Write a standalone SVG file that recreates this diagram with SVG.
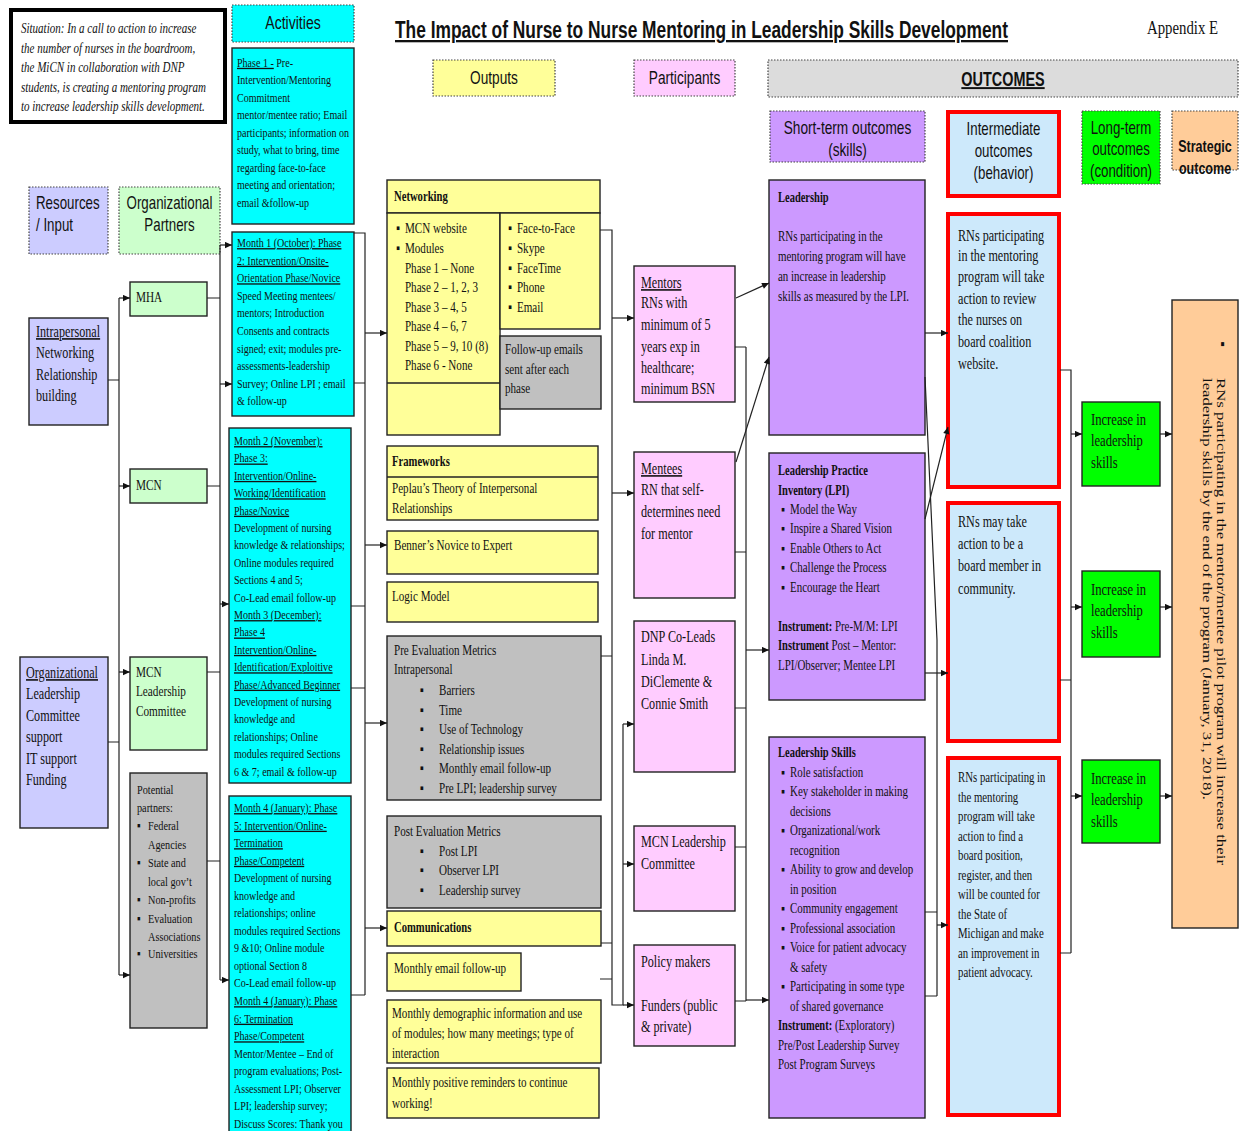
<svg xmlns="http://www.w3.org/2000/svg" width="1243" height="1131" viewBox="0 0 1243 1131">
<defs>
<marker id="ah" viewBox="0 0 10 10" refX="10" refY="5" markerWidth="8" markerHeight="7" markerUnits="userSpaceOnUse" orient="auto"><path d="M0,0.5 L10,5 L0,9.5 z" fill="#111"/></marker>
<style>
.s{font-family:"Liberation Serif","Times New Roman",serif;fill:#111}
.h{font-family:"Liberation Sans",Arial,sans-serif;fill:#111}
.u{text-decoration:underline}
.b{font-weight:bold}
.i{font-style:italic}
.bx{stroke:#222;stroke-width:1.4}
.dt{stroke:#444;stroke-width:1.2;stroke-dasharray:1.5 1.5}
.red{stroke:#ff0000;stroke-width:4}
.ln{fill:none;stroke:#222;stroke-width:1.2}
.ar{marker-end:url(#ah)}
.cy{fill:#00ffff}.ye{fill:#ffff99}.gr{fill:#c0c0c0}.pk{fill:#ffccff}.pu{fill:#cc99ff}.lb{fill:#cde9fb}.gn{fill:#00ff00}.pe{fill:#ffcc99}.lv{fill:#ccccff}.lg{fill:#ccffcc}
</style>
</defs>
<rect width="1243" height="1131" fill="#ffffff"/>

<g id="title">
<text class="h u b" x="395" y="38" font-size="23" textLength="613" lengthAdjust="spacingAndGlyphs">The Impact of Nurse to Nurse Mentoring in Leadership Skills Development</text>
<text class="s" font-size="19.5" transform="matrix(.76 0 0 1 1147 0)" x="0" y="34">Appendix E</text>
</g>

<g id="situation">
<rect x="11" y="10" width="214" height="112" fill="#fff" stroke="#000" stroke-width="4"/>
<text class="s i" font-size="14.5" transform="matrix(.76 0 0 1 21 0)">
<tspan x="0" y="33.5">Situation: In a call to action to increase</tspan>
<tspan x="0" y="53">the number of nurses in the boardroom,</tspan>
<tspan x="0" y="72.5">the MiCN in collaboration with DNP</tspan>
<tspan x="0" y="92">students, is creating a mentoring program</tspan>
<tspan x="0" y="111.5">to increase leadership skills development.</tspan>
</text>
</g>

<!-- headers -->
<g id="hdr-activities"><rect x="232" y="5" width="122" height="37" class="cy dt"/><text class="h" font-size="19" text-anchor="middle" transform="matrix(.74 0 0 1 293 0)" x="0" y="29">Activities</text></g>
<g id="hdr-resources"><rect x="29" y="187" width="79" height="67" class="lv dt"/><text class="h" font-size="18" transform="matrix(.74 0 0 1 36 0)"><tspan x="0" y="209">Resources</tspan><tspan x="0" y="231">/ Input</tspan></text></g>
<g id="hdr-partners"><rect x="119" y="187" width="101" height="67" class="lg dt"/><text class="h" font-size="18" text-anchor="middle" transform="matrix(.74 0 0 1 169.5 0)"><tspan x="0" y="209">Organizational</tspan><tspan x="0" y="231">Partners</tspan></text></g>
<g id="hdr-outputs"><rect x="433" y="60" width="122" height="36" class="ye dt"/><text class="h" font-size="18.5" text-anchor="middle" transform="matrix(.74 0 0 1 494 0)" x="0" y="84">Outputs</text></g>
<g id="hdr-participants"><rect x="634" y="60" width="101" height="36" class="pk dt"/><text class="h" font-size="18.5" text-anchor="middle" transform="matrix(.74 0 0 1 684.5 0)" x="0" y="84">Participants</text></g>
<g id="hdr-outcomes"><rect x="768" y="60" width="470" height="37" fill="#dcdcdc" class="dt"/><text class="h u b" font-size="19.5" text-anchor="middle" transform="matrix(.74 0 0 1 1003 0)" x="0" y="86">OUTCOMES</text></g>
<g id="hdr-short"><rect x="770" y="111" width="155" height="51" class="pu dt"/><text class="h" font-size="18" text-anchor="middle" transform="matrix(.76 0 0 1 847.5 0)"><tspan x="0" y="134">Short-term outcomes</tspan><tspan x="0" y="156">(skills)</tspan></text></g>
<g id="hdr-intermediate"><rect x="948" y="112" width="111" height="84" class="lb red"/><text class="h" font-size="17.5" text-anchor="middle" transform="matrix(.76 0 0 1 1003.5 0)"><tspan x="0" y="135">Intermediate</tspan><tspan x="0" y="157">outcomes</tspan><tspan x="0" y="179">(behavior)</tspan></text></g>
<g id="hdr-longterm"><rect x="1082" y="111" width="78" height="73" class="gn dt"/><text class="h" font-size="17.5" text-anchor="middle" transform="matrix(.76 0 0 1 1121 0)"><tspan x="0" y="134">Long-term</tspan><tspan x="0" y="155">outcomes</tspan><tspan x="0" y="177">(condition)</tspan></text></g>
<g id="hdr-strategic"><rect x="1172" y="111" width="66" height="59" class="pe dt"/><text class="h b" font-size="16.5" text-anchor="middle" transform="matrix(.76 0 0 1 1205 0)"><tspan x="0" y="152">Strategic</tspan><tspan x="0" y="174">outcome</tspan></text></g>

<!-- resources -->
<g id="res-intrapersonal"><rect x="29" y="318" width="79" height="107" class="lv bx"/>
<text class="s" font-size="16" transform="matrix(.76 0 0 1 36 0)"><tspan x="0" y="337" class="u">Intrapersonal</tspan><tspan x="0" y="358">Networking</tspan><tspan x="0" y="380">Relationship</tspan><tspan x="0" y="401">building</tspan></text></g>
<g id="res-organizational"><rect x="20" y="657" width="88" height="171" class="lv bx"/>
<text class="s" font-size="16" transform="matrix(.76 0 0 1 26 0)"><tspan x="0" y="678" class="u">Organizational</tspan><tspan x="0" y="699.5">Leadership</tspan><tspan x="0" y="721">Committee</tspan><tspan x="0" y="742.5">support</tspan><tspan x="0" y="764">IT support</tspan><tspan x="0" y="785.5">Funding</tspan></text></g>

<!-- partners -->
<g id="par-mha"><rect x="130" y="282" width="77" height="34" class="lg bx"/><text class="s" font-size="14.8" transform="matrix(.76 0 0 1 136 0)" x="0" y="302">MHA</text></g>
<g id="par-mcn"><rect x="130" y="469" width="77" height="34" class="lg bx"/><text class="s" font-size="14.8" transform="matrix(.76 0 0 1 136 0)" x="0" y="490">MCN</text></g>
<g id="par-mcnlc"><rect x="130" y="657" width="77" height="93" class="lg bx"/><text class="s" font-size="14.8" transform="matrix(.76 0 0 1 136 0)"><tspan x="0" y="677">MCN</tspan><tspan x="0" y="696.5">Leadership</tspan><tspan x="0" y="716">Committee</tspan></text></g>
<g id="par-potential"><rect x="130" y="773" width="77" height="255" class="gr bx"/>
<text class="s" font-size="13.5" transform="matrix(.76 0 0 1 137 0)">
<tspan x="0" y="794">Potential</tspan>
<tspan x="0" y="812">partners:</tspan>
<tspan x="0" y="830">▪</tspan><tspan x="14.5" y="830">Federal</tspan>
<tspan x="14.5" y="849">Agencies</tspan>
<tspan x="0" y="867">▪</tspan><tspan x="14.5" y="867">State and</tspan>
<tspan x="14.5" y="886">local gov’t</tspan>
<tspan x="0" y="904">▪</tspan><tspan x="14.5" y="904">Non-profits</tspan>
<tspan x="0" y="923">▪</tspan><tspan x="14.5" y="923">Evaluation</tspan>
<tspan x="14.5" y="941">Associations</tspan>
<tspan x="0" y="958">▪</tspan><tspan x="14.5" y="958">Universities</tspan>
</text></g>

<!-- activities -->
<g id="act-phase1"><rect x="232" y="48" width="122" height="176" class="cy bx"/>
<text class="s" font-size="13.2" transform="matrix(.76 0 0 1 237 0)">
<tspan x="0" y="66.7"><tspan class="u">Phase 1 -</tspan> Pre-</tspan>
<tspan x="0" y="84.2">Intervention/Mentoring</tspan>
<tspan x="0" y="101.7">Commitment</tspan>
<tspan x="0" y="119.2">mentor/mentee ratio; Email</tspan>
<tspan x="0" y="136.7">participants; information on</tspan>
<tspan x="0" y="154.2">study, what to bring, time</tspan>
<tspan x="0" y="171.7">regarding face-to-face</tspan>
<tspan x="0" y="189.2">meeting and orientation;</tspan>
<tspan x="0" y="206.7">email &amp;follow-up</tspan>
</text></g>
<g id="act-month1"><rect x="232" y="232" width="122" height="184" class="cy bx"/>
<text class="s" font-size="13.2" transform="matrix(.76 0 0 1 237 0)">
<tspan x="0" y="247" class="u">Month 1 (October): Phase</tspan>
<tspan x="0" y="264.6" class="u">2: Intervention/Onsite-</tspan>
<tspan x="0" y="282.2" class="u">Orientation Phase/Novice</tspan>
<tspan x="0" y="299.8">Speed Meeting mentees/</tspan>
<tspan x="0" y="317.4">mentors; Introduction</tspan>
<tspan x="0" y="335">Consents and contracts</tspan>
<tspan x="0" y="352.6">signed; exit; modules pre-</tspan>
<tspan x="0" y="370.2">assessments-leadership</tspan>
<tspan x="0" y="387.8">Survey; Online LPI ; email</tspan>
<tspan x="0" y="405.4">&amp; follow-up</tspan>
</text></g>
<g id="act-month2"><rect x="229" y="428" width="122" height="355" class="cy bx"/>
<text class="s" font-size="13.2" transform="matrix(.76 0 0 1 234 0)">
<tspan x="0" y="445" class="u">Month 2 (November):</tspan>
<tspan x="0" y="462.4" class="u">Phase 3:</tspan>
<tspan x="0" y="479.8" class="u">Intervention/Online-</tspan>
<tspan x="0" y="497.2" class="u">Working/Identification</tspan>
<tspan x="0" y="514.6" class="u">Phase/Novice</tspan>
<tspan x="0" y="532">Development of nursing</tspan>
<tspan x="0" y="549.4">knowledge &amp; relationships;</tspan>
<tspan x="0" y="566.8">Online modules required</tspan>
<tspan x="0" y="584.2">Sections 4 and 5;</tspan>
<tspan x="0" y="601.6">Co-Lead email follow-up</tspan>
<tspan x="0" y="619" class="u">Month 3 (December):</tspan>
<tspan x="0" y="636.4" class="u">Phase 4</tspan>
<tspan x="0" y="653.8" class="u">Intervention/Online-</tspan>
<tspan x="0" y="671.2" class="u">Identification/Exploitive</tspan>
<tspan x="0" y="688.6" class="u">Phase/Advanced Beginner</tspan>
<tspan x="0" y="706">Development of nursing</tspan>
<tspan x="0" y="723.4">knowledge and</tspan>
<tspan x="0" y="740.8">relationships; Online</tspan>
<tspan x="0" y="758.2">modules required Sections</tspan>
<tspan x="0" y="775.6">6 &amp; 7; email &amp; follow-up</tspan>
</text></g>
<g id="act-month4"><rect x="229" y="796" width="122" height="345" class="cy bx"/>
<text class="s" font-size="13.2" transform="matrix(.76 0 0 1 234 0)">
<tspan x="0" y="812" class="u">Month 4 (January): Phase</tspan>
<tspan x="0" y="829.6" class="u">5: Intervention/Online-</tspan>
<tspan x="0" y="847.1" class="u">Termination</tspan>
<tspan x="0" y="864.7" class="u">Phase/Competent</tspan>
<tspan x="0" y="882.2">Development of nursing</tspan>
<tspan x="0" y="899.8">knowledge and</tspan>
<tspan x="0" y="917.3">relationships; online</tspan>
<tspan x="0" y="934.9">modules required Sections</tspan>
<tspan x="0" y="952.4">9 &amp;10; Online module</tspan>
<tspan x="0" y="970">optional Section 8</tspan>
<tspan x="0" y="987.5">Co-Lead email follow-up</tspan>
<tspan x="0" y="1005.1" class="u">Month 4 (January): Phase</tspan>
<tspan x="0" y="1022.6" class="u">6: Termination</tspan>
<tspan x="0" y="1040.2" class="u">Phase/Competent</tspan>
<tspan x="0" y="1057.7">Mentor/Mentee – End of</tspan>
<tspan x="0" y="1075.3">program evaluations;  Post-</tspan>
<tspan x="0" y="1092.8">Assessment LPI; Observer</tspan>
<tspan x="0" y="1110.4">LPI; leadership survey;</tspan>
<tspan x="0" y="1127.9">Discuss Scores: Thank you</tspan>
</text></g>

<!-- outputs -->
<g id="out-networking">
<rect x="387" y="180" width="213" height="33" class="ye bx"/>
<rect x="387" y="213" width="113" height="222" class="ye bx"/>
<line x1="387" y1="383" x2="500" y2="383" class="bx"/>
<rect x="500" y="213" width="100" height="116" class="ye bx"/>
<text class="s b" font-size="14" transform="matrix(.76 0 0 1 394 0)" x="0" y="201">Networking</text>
<text class="s" font-size="14.6" transform="matrix(.76 0 0 1 396 0)">
<tspan x="0" y="233.5">▪</tspan><tspan x="11.8" y="233.5">MCN website</tspan>
<tspan x="0" y="253.1">▪</tspan><tspan x="11.8" y="253.1">Modules</tspan>
<tspan x="11.8" y="272.6">Phase 1 – None</tspan>
<tspan x="11.8" y="292.2">Phase 2 – 1, 2, 3</tspan>
<tspan x="11.8" y="311.8">Phase 3 – 4, 5</tspan>
<tspan x="11.8" y="331.4">Phase 4 – 6, 7</tspan>
<tspan x="11.8" y="350.9">Phase 5 – 9, 10 (8)</tspan>
<tspan x="11.8" y="370.5">Phase 6 - None</tspan>
</text>
<text class="s" font-size="14.6" transform="matrix(.76 0 0 1 508 0)">
<tspan x="0" y="233.5">▪</tspan><tspan x="11.8" y="233.5">Face-to-Face</tspan>
<tspan x="0" y="253.1">▪</tspan><tspan x="11.8" y="253.1">Skype</tspan>
<tspan x="0" y="272.6">▪</tspan><tspan x="11.8" y="272.6">FaceTime</tspan>
<tspan x="0" y="292.2">▪</tspan><tspan x="11.8" y="292.2">Phone</tspan>
<tspan x="0" y="311.8">▪</tspan><tspan x="11.8" y="311.8">Email</tspan>
</text>
</g>
<g id="out-followup"><rect x="500" y="336" width="101" height="73" class="gr bx"/>
<text class="s" font-size="14.6" transform="matrix(.76 0 0 1 505 0)"><tspan x="0" y="354.5">Follow-up emails</tspan><tspan x="0" y="374">sent after each</tspan><tspan x="0" y="393.5">phase</tspan></text></g>
<g id="out-frameworks"><rect x="387" y="446" width="211" height="74" class="ye bx"/><line x1="387" y1="477" x2="598" y2="477" class="bx"/>
<text class="s" font-size="14.6" transform="matrix(.76 0 0 1 392 0)"><tspan x="0" y="466.5" class="b" font-size="14">Frameworks</tspan><tspan x="0" y="493.5">Peplau’s Theory of Interpersonal</tspan><tspan x="0" y="513.5">Relationships</tspan></text></g>
<g id="out-benner"><rect x="387" y="531" width="211" height="43" class="ye bx"/><text class="s" font-size="14.6" transform="matrix(.76 0 0 1 394 0)" x="0" y="550.5">Benner’s Novice to Expert</text></g>
<g id="out-logic"><rect x="387" y="582" width="211" height="40" class="ye bx"/><text class="s" font-size="14.6" transform="matrix(.76 0 0 1 392 0)" x="0" y="601.5">Logic Model</text></g>
<g id="out-pre"><rect x="387" y="636" width="214" height="164" class="gr bx"/>
<text class="s" font-size="14.6" transform="matrix(.76 0 0 1 394 0)">
<tspan x="0" y="655.5">Pre Evaluation Metrics</tspan>
<tspan x="0" y="674.5">Intrapersonal</tspan>
<tspan x="34" y="695.5">▪</tspan><tspan x="59.2" y="695.5">Barriers</tspan>
<tspan x="34" y="715.5">▪</tspan><tspan x="59.2" y="715.5">Time</tspan>
<tspan x="34" y="734.5">▪</tspan><tspan x="59.2" y="734.5">Use of Technology</tspan>
<tspan x="34" y="754.5">▪</tspan><tspan x="59.2" y="754.5">Relationship issues</tspan>
<tspan x="34" y="773.5">▪</tspan><tspan x="59.2" y="773.5">Monthly email follow-up</tspan>
<tspan x="34" y="793.5">▪</tspan><tspan x="59.2" y="793.5">Pre LPI; leadership survey</tspan>
</text></g>
<g id="out-post"><rect x="387" y="816" width="214" height="92" class="gr bx"/>
<text class="s" font-size="14.6" transform="matrix(.76 0 0 1 394 0)">
<tspan x="0" y="836.5">Post Evaluation Metrics</tspan>
<tspan x="34" y="856.5">▪</tspan><tspan x="59.2" y="856.5">Post LPI</tspan>
<tspan x="34" y="875.5">▪</tspan><tspan x="59.2" y="875.5">Observer LPI</tspan>
<tspan x="34" y="895.5">▪</tspan><tspan x="59.2" y="895.5">Leadership survey</tspan>
</text></g>
<g id="out-communications"><rect x="387" y="911" width="214" height="35" class="ye bx"/><text class="s b" font-size="14" transform="matrix(.76 0 0 1 394 0)" x="0" y="932.5">Communications</text></g>
<g id="out-monthly-email"><rect x="387" y="953" width="134" height="38" class="ye bx"/><text class="s" font-size="14.6" transform="matrix(.76 0 0 1 394 0)" x="0" y="973.5">Monthly email follow-up</text></g>
<g id="out-monthly-demo"><rect x="387" y="1000" width="214" height="63" class="ye bx"/>
<text class="s" font-size="14.6" transform="matrix(.76 0 0 1 392 0)"><tspan x="0" y="1018.5">Monthly demographic information and use</tspan><tspan x="0" y="1038.5">of modules; how many meetings; type of</tspan><tspan x="0" y="1058.5">interaction</tspan></text></g>
<g id="out-monthly-positive"><rect x="387" y="1068" width="212" height="50" class="ye bx"/>
<text class="s" font-size="14.6" transform="matrix(.76 0 0 1 392 0)"><tspan x="0" y="1087.5">Monthly positive reminders to continue</tspan><tspan x="0" y="1108.5">working!</tspan></text></g>

<!-- participants -->
<g id="p-mentors"><rect x="634" y="266" width="101" height="136" class="pk bx"/>
<text class="s" font-size="16" transform="matrix(.76 0 0 1 641 0)"><tspan x="0" y="288" class="u">Mentors</tspan><tspan x="0" y="308.5">RNs with</tspan><tspan x="0" y="330">minimum of 5</tspan><tspan x="0" y="352">years exp in</tspan><tspan x="0" y="373">healthcare;</tspan><tspan x="0" y="394">minimum BSN</tspan></text></g>
<g id="p-mentees"><rect x="634" y="452" width="101" height="146" class="pk bx"/>
<text class="s" font-size="16" transform="matrix(.76 0 0 1 641 0)"><tspan x="0" y="474" class="u">Mentees</tspan><tspan x="0" y="495">RN that self-</tspan><tspan x="0" y="517">determines need</tspan><tspan x="0" y="539">for mentor</tspan></text></g>
<g id="p-dnp"><rect x="634" y="621" width="101" height="151" class="pk bx"/>
<text class="s" font-size="16" transform="matrix(.76 0 0 1 641 0)"><tspan x="0" y="642">DNP Co-Leads</tspan><tspan x="0" y="665">Linda M.</tspan><tspan x="0" y="687">DiClemente &amp;</tspan><tspan x="0" y="709">Connie Smith</tspan></text></g>
<g id="p-mcnlc"><rect x="634" y="826" width="101" height="85" class="pk bx"/>
<text class="s" font-size="16" transform="matrix(.76 0 0 1 641 0)"><tspan x="0" y="847">MCN Leadership</tspan><tspan x="0" y="869">Committee</tspan></text></g>
<g id="p-policy"><rect x="634" y="945" width="101" height="101" class="pk bx"/>
<text class="s" font-size="16" transform="matrix(.76 0 0 1 641 0)"><tspan x="0" y="967">Policy makers</tspan><tspan x="0" y="1011">Funders (public</tspan><tspan x="0" y="1032">&amp; private)</tspan></text></g>

<!-- short-term -->
<g id="st-leadership"><rect x="769" y="180" width="156" height="255" class="pu bx"/>
<text class="s" font-size="14.4" transform="matrix(.76 0 0 1 778 0)"><tspan x="0" y="202.5" class="b" font-size="13.8">Leadership</tspan><tspan x="0" y="241.5">RNs participating in the</tspan><tspan x="0" y="261.5">mentoring program will have</tspan><tspan x="0" y="281.5">an increase in leadership</tspan><tspan x="0" y="301.5">skills as measured by the LPI.</tspan></text></g>
<g id="st-lpi"><rect x="769" y="453" width="156" height="247" class="pu bx"/>
<text class="s" font-size="14.4" transform="matrix(.76 0 0 1 778 0)">
<tspan x="0" y="475.5" class="b" font-size="13.8">Leadership Practice</tspan>
<tspan x="0" y="495.5" class="b" font-size="13.8">Inventory (LPI)</tspan>
<tspan x="3.9" y="514.5">▪</tspan><tspan x="15.8" y="514.5">Model the Way</tspan>
<tspan x="3.9" y="533.5">▪</tspan><tspan x="15.8" y="533.5">Inspire a Shared Vision</tspan>
<tspan x="3.9" y="553.5">▪</tspan><tspan x="15.8" y="553.5">Enable Others to Act</tspan>
<tspan x="3.9" y="572.5">▪</tspan><tspan x="15.8" y="572.5">Challenge the Process</tspan>
<tspan x="3.9" y="592.5">▪</tspan><tspan x="15.8" y="592.5">Encourage the Heart</tspan>
<tspan x="0" y="631.5"><tspan class="b" font-size="13.8">Instrument:</tspan> Pre-M/M: LPI</tspan>
<tspan x="0" y="650.5"><tspan class="b" font-size="13.8">Instrument</tspan> Post – Mentor:</tspan>
<tspan x="0" y="670.5">LPI/Observer; Mentee LPI</tspan>
</text></g>
<g id="st-skills"><rect x="769" y="737" width="156" height="381" class="pu bx"/>
<text class="s" font-size="14.4" transform="matrix(.76 0 0 1 778 0)">
<tspan x="0" y="757.5" class="b" font-size="13.8">Leadership Skills</tspan>
<tspan x="3.9" y="777.5">▪</tspan><tspan x="15.8" y="777.5">Role satisfaction</tspan>
<tspan x="3.9" y="796.5">▪</tspan><tspan x="15.8" y="796.5">Key stakeholder in making</tspan>
<tspan x="15.8" y="816.5">decisions</tspan>
<tspan x="3.9" y="835.5">▪</tspan><tspan x="15.8" y="835.5">Organizational/work</tspan>
<tspan x="15.8" y="855.5">recognition</tspan>
<tspan x="3.9" y="874.5">▪</tspan><tspan x="15.8" y="874.5">Ability to grow and develop</tspan>
<tspan x="15.8" y="894.5">in position</tspan>
<tspan x="3.9" y="913.5">▪</tspan><tspan x="15.8" y="913.5">Community engagement</tspan>
<tspan x="3.9" y="933.5">▪</tspan><tspan x="15.8" y="933.5">Professional association</tspan>
<tspan x="3.9" y="952.5">▪</tspan><tspan x="15.8" y="952.5">Voice for patient advocacy</tspan>
<tspan x="15.8" y="972.5">&amp; safety</tspan>
<tspan x="3.9" y="991.5">▪</tspan><tspan x="15.8" y="991.5">Participating in some type</tspan>
<tspan x="15.8" y="1011.5">of shared governance</tspan>
<tspan x="0" y="1030.5"><tspan class="b" font-size="13.8">Instrument:</tspan> (Exploratory)</tspan>
<tspan x="0" y="1050.5">Pre/Post Leadership Survey</tspan>
<tspan x="0" y="1069.5">Post Program Surveys</tspan>
</text></g>

<!-- intermediate -->
<g id="im-1"><rect x="948" y="214" width="111" height="273" class="lb red"/>
<text class="s" font-size="16" transform="matrix(.76 0 0 1 958 0)"><tspan x="0" y="241">RNs participating</tspan><tspan x="0" y="261.5">in the mentoring</tspan><tspan x="0" y="282.5">program will take</tspan><tspan x="0" y="304">action to review</tspan><tspan x="0" y="325.5">the nurses on</tspan><tspan x="0" y="347">board coalition</tspan><tspan x="0" y="369.5">website.</tspan></text></g>
<g id="im-2"><rect x="948" y="503" width="111" height="238" class="lb red"/>
<text class="s" font-size="16" transform="matrix(.76 0 0 1 958 0)"><tspan x="0" y="527">RNs may take</tspan><tspan x="0" y="549">action to be a</tspan><tspan x="0" y="571">board member in</tspan><tspan x="0" y="594">community.</tspan></text></g>
<g id="im-3"><rect x="948" y="758" width="111" height="357" class="lb red"/>
<text class="s" font-size="14.2" transform="matrix(.76 0 0 1 958 0)"><tspan x="0" y="782.5">RNs participating in</tspan><tspan x="0" y="802">the mentoring</tspan><tspan x="0" y="821.5">program will take</tspan><tspan x="0" y="841">action to find a</tspan><tspan x="0" y="860.5">board position,</tspan><tspan x="0" y="880">register, and then</tspan><tspan x="0" y="899.5">will be counted for</tspan><tspan x="0" y="919">the State of</tspan><tspan x="0" y="938.5">Michigan and make</tspan><tspan x="0" y="958">an improvement in</tspan><tspan x="0" y="977.5">patient advocacy.</tspan></text></g>

<!-- long-term -->
<g id="lt-1"><rect x="1082" y="402" width="78" height="84" class="gn bx"/><text class="s" font-size="16.6" transform="matrix(.76 0 0 1 1091 0)"><tspan x="0" y="425">Increase in</tspan><tspan x="0" y="446">leadership</tspan><tspan x="0" y="468">skills</tspan></text></g>
<g id="lt-2"><rect x="1082" y="571" width="78" height="86" class="gn bx"/><text class="s" font-size="16.6" transform="matrix(.76 0 0 1 1091 0)"><tspan x="0" y="595">Increase in</tspan><tspan x="0" y="616">leadership</tspan><tspan x="0" y="638">skills</tspan></text></g>
<g id="lt-3"><rect x="1082" y="760" width="78" height="83" class="gn bx"/><text class="s" font-size="16.6" transform="matrix(.76 0 0 1 1091 0)"><tspan x="0" y="784">Increase in</tspan><tspan x="0" y="805">leadership</tspan><tspan x="0" y="827">skills</tspan></text></g>

<!-- strategic -->
<g id="strategic"><rect x="1172" y="300" width="66" height="628" class="pe bx"/>
<text class="s" font-size="16" transform="translate(1219 341) rotate(90) scale(1 .76)" x="0" y="0">▪</text>
<text class="s" font-size="16" transform="translate(1217 378) rotate(90) scale(1 .76)" x="0" y="0" textLength="487" lengthAdjust="spacingAndGlyphs">RNs participating in the mentor/mentee pilot program will increase their</text>
<text class="s" font-size="16" transform="translate(1203 378) rotate(90) scale(1 .76)" x="0" y="0" textLength="422" lengthAdjust="spacingAndGlyphs">leadership skills by the end of the program (January, 31, 2018).</text>
</g>

<g id="connectors" class="ln">
<path d="M108,380H119M108,742H119M119,298V975"/>
<path class="ar" d="M119,298H130"/><path class="ar" d="M119,486H130"/><path class="ar" d="M119,672H130"/><path class="ar" d="M119,975H130"/>
<path d="M207,298H220M207,486H220M207,672H220M207,861H220M220,245V980"/>
<path class="ar" d="M220,245H232"/><path class="ar" d="M220,384H232"/><path class="ar" d="M220,604H229"/><path class="ar" d="M220,980H229"/>
<path d="M354,233H365V995M354,383H365M351,606H365M351,688H365M351,995H365"/>
<path class="ar" d="M365,333H387"/><path class="ar" d="M365,545H387"/><path class="ar" d="M365,723H387"/><path class="ar" d="M365,928H387"/>
<path d="M600,230H612V1005H623V724M601,656H612M601,943H612M600,979H612"/>
<path class="ar" d="M612,318H634"/><path class="ar" d="M612,493H634"/><path class="ar" d="M623,724H634"/><path class="ar" d="M623,864H634"/><path class="ar" d="M623,1005H634"/>
<path d="M735,347H746M735,552H746M735,708H746M735,847H746M735,1001H746M746,347V1001"/>
<path class="ar" d="M746,650H769"/><path class="ar" d="M746,1000H769"/>
<path class="ar" d="M736,298L769,283"/><path class="ar" d="M736,462L769,357"/>
<path class="ar" d="M925,333H948"/>
<path d="M925,377L937,640V996M925,912H937M925,996H937"/>
<path class="ar" d="M925,673H948"/><path class="ar" d="M925,519L948,427"/><path class="ar" d="M937,925H948"/>
<path d="M1060,370H1071V953M1060,680H1071M1060,953H1071"/>
<path class="ar" d="M1071,434H1082"/><path class="ar" d="M1071,607H1082"/><path class="ar" d="M1071,796H1082"/>
<path class="ar" d="M1160,434H1172"/><path class="ar" d="M1160,607H1172"/><path class="ar" d="M1160,796H1172"/>
</g>
</svg>
